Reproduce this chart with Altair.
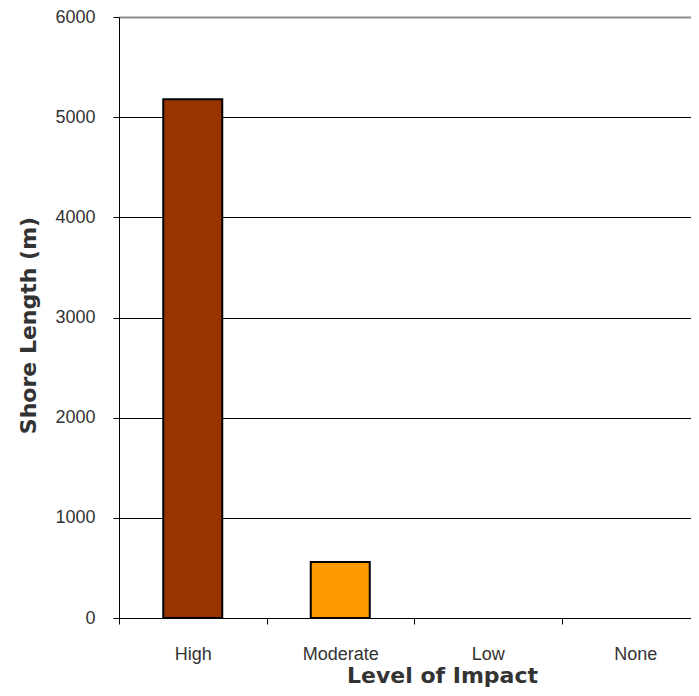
import altair as alt
import pandas as pd

categories = ["High", "Moderate", "Low", "None"]
shore_length = [5180, 560, 0, 0]
bar_colors = ["#993300", "#FF9900", "#FFCC00", "#FFFF99"]
y_ticks = [0, 1000, 2000, 3000, 4000, 5000, 6000]

df = pd.DataFrame({"impact": categories, "length": shore_length})

label_font = "Liberation Sans"
title_font = "DejaVu Sans"

chart = alt.Chart(df).mark_bar(
    width=alt.RelativeBandSize(0.4), stroke="black", strokeWidth=2
).encode(
    x=alt.X(
        "impact:N",
        sort=categories,
        scale=alt.Scale(domain=categories, range=[0, 590], paddingInner=0, paddingOuter=0),
        axis=alt.Axis(
            title="Level of Impact",
            labelAngle=0,
            tickBand="extent",
            labelFont=label_font,
            labelFontSize=18,
            labelColor="#333333",
            labelPadding=21,
            tickSize=6,
            tickColor="black",
            domainColor="black",
            grid=False,
            titleFont=title_font,
            titleFontWeight="bold",
            titleFontSize=22,
            titleColor="#333333",
            titleX=323,
            titleY=64,
            titleBaseline="alphabetic",
            titleAlign="center",
        ),
    ),
    y=alt.Y(
        "length:Q",
        scale=alt.Scale(domain=[0, 6000], nice=False),
        axis=alt.Axis(
            values=y_ticks,
            format="d",
            title="Shore Length (m)",
            labelFont=label_font,
            labelFontSize=18,
            labelColor="#333333",
            labelPadding=18,
            tickSize=6,
            tickColor="black",
            domainColor="black",
            grid=True,
            gridColor=alt.condition(alt.datum.value == 6000, alt.value("#8c8c8c"), alt.value("black")),
            gridWidth=alt.condition(alt.datum.value == 6000, alt.value(2), alt.value(1)),
            titleFont=title_font,
            titleFontWeight="bold",
            titleFontSize=22,
            titleColor="#333333",
            titleX=-91,
            titleY=308,
            titleAngle=270,
            titleBaseline="middle",
            titleAlign="center",
        ),
    ),
    color=alt.Color("impact:N", scale=alt.Scale(domain=categories, range=bar_colors), legend=None),
    strokeOpacity=alt.condition(alt.datum.length > 0, alt.value(1), alt.value(0)),
).properties(
    width=572,
    height=601,
    autosize=alt.AutoSizeParams(type="none"),
    padding={"left": 111, "top": 9, "right": 0, "bottom": 70},
    background="white",
).configure_view(stroke=None)

chart.save("out.html", embed_options={"renderer": "svg", "actions": False})
